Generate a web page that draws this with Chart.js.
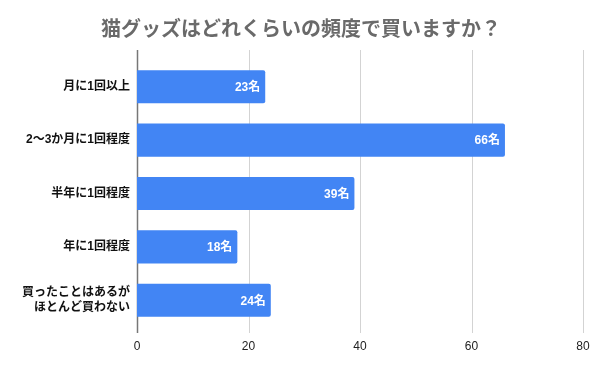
<!DOCTYPE html>
<html>
<head>
<meta charset="utf-8">
<script src="https://cdn.jsdelivr.net/npm/chart.js@4"></script>
<style>
html,body{margin:0;padding:0;background:#fff;}
#wrap{width:602px;height:372px;position:relative;}
</style>
</head>
<body>
<div id="wrap"><canvas id="c" width="602" height="372"></canvas></div>
<script>
const titleText = '猫グッズはどれくらいの頻度で買いますか？';
const categories = [
  '月に1回以上',
  '2〜3か月に1回程度',
  '半年に1回程度',
  '年に1回程度',
  ['買ったことはあるが', 'ほとんど買わない']
];
const values = [23, 66, 39, 18, 24];
const unit = '名';
const xTicks = [0, 20, 40, 60, 80];

const FONT = "'Liberation Sans', 'Noto Sans CJK JP', sans-serif";

const gridPlugin = {
  id: 'customGrid',
  beforeDatasetsDraw(chart) {
    const ctx = chart.ctx;
    const xs = chart.scales.x;
    const a = chart.chartArea;
    ctx.save();
    xTicks.forEach(v => {
      const px = Math.round(xs.getPixelForValue(v)) + 0.5;
      ctx.beginPath();
      if (v === 0) {
        ctx.strokeStyle = '#777';
        ctx.lineWidth = 1.5;
      } else {
        ctx.strokeStyle = '#d3d3d3';
        ctx.lineWidth = 1;
      }
      ctx.moveTo(px, a.top - 10);
      ctx.lineTo(px, a.bottom + 6);
      ctx.stroke();
    });
    ctx.restore();
  }
};

const labelPlugin = {
  id: 'barLabels',
  afterDatasetsDraw(chart) {
    const ctx = chart.ctx;
    const meta = chart.getDatasetMeta(0);
    ctx.save();
    ctx.fillStyle = '#ffffff';
    ctx.font = "bold 12px " + FONT;
    ctx.textAlign = 'right';
    ctx.textBaseline = 'middle';
    meta.data.forEach((el, i) => {
      ctx.fillText(values[i] + unit, el.x - 5, el.y + 1);
    });
    ctx.restore();
  }
};

new Chart(document.getElementById('c'), {
  type: 'bar',
  data: {
    labels: categories,
    datasets: [{
      data: values,
      backgroundColor: '#4285F4',
      borderRadius: 2,
      borderSkipped: 'start',
      barPercentage: 0.62,
      categoryPercentage: 1.0
    }]
  },
  options: {
    indexAxis: 'y',
    responsive: false,
    animation: false,
    devicePixelRatio: 1,
    layout: { padding: { left: 19, right: 19, top: 0, bottom: 0 } },
    plugins: {
      legend: { display: false },
      tooltip: { enabled: false },
      title: {
        display: true,
        text: titleText,
        color: '#6a6a6a',
        font: { family: "'Noto Sans CJK JP', sans-serif", size: 20, weight: 'bold', lineHeight: 1.2 },
        padding: { top: 16, bottom: 20 }
      }
    },
    scales: {
      x: {
        type: 'linear',
        min: 0,
        max: 80,
        afterBuildTicks(scale) { scale.ticks = xTicks.map(v => ({ value: v })); },
        afterFit(scale) { scale.height = 45; },
        grid: { display: false, drawTicks: false },
        border: { display: false },
        ticks: {
          color: '#222',
          padding: 12,
          font: { family: FONT, size: 12 }
        }
      },
      y: {
        afterFit(scale) { scale.width = 118; },
        grid: { display: false, drawTicks: false },
        border: { display: false },
        ticks: {
          color: '#111',
          padding: 7,
          font: { family: FONT, size: 12, weight: 'bold', lineHeight: 1.2 }
        }
      }
    }
  },
  plugins: [gridPlugin, labelPlugin]
});
</script>
</body>
</html>
